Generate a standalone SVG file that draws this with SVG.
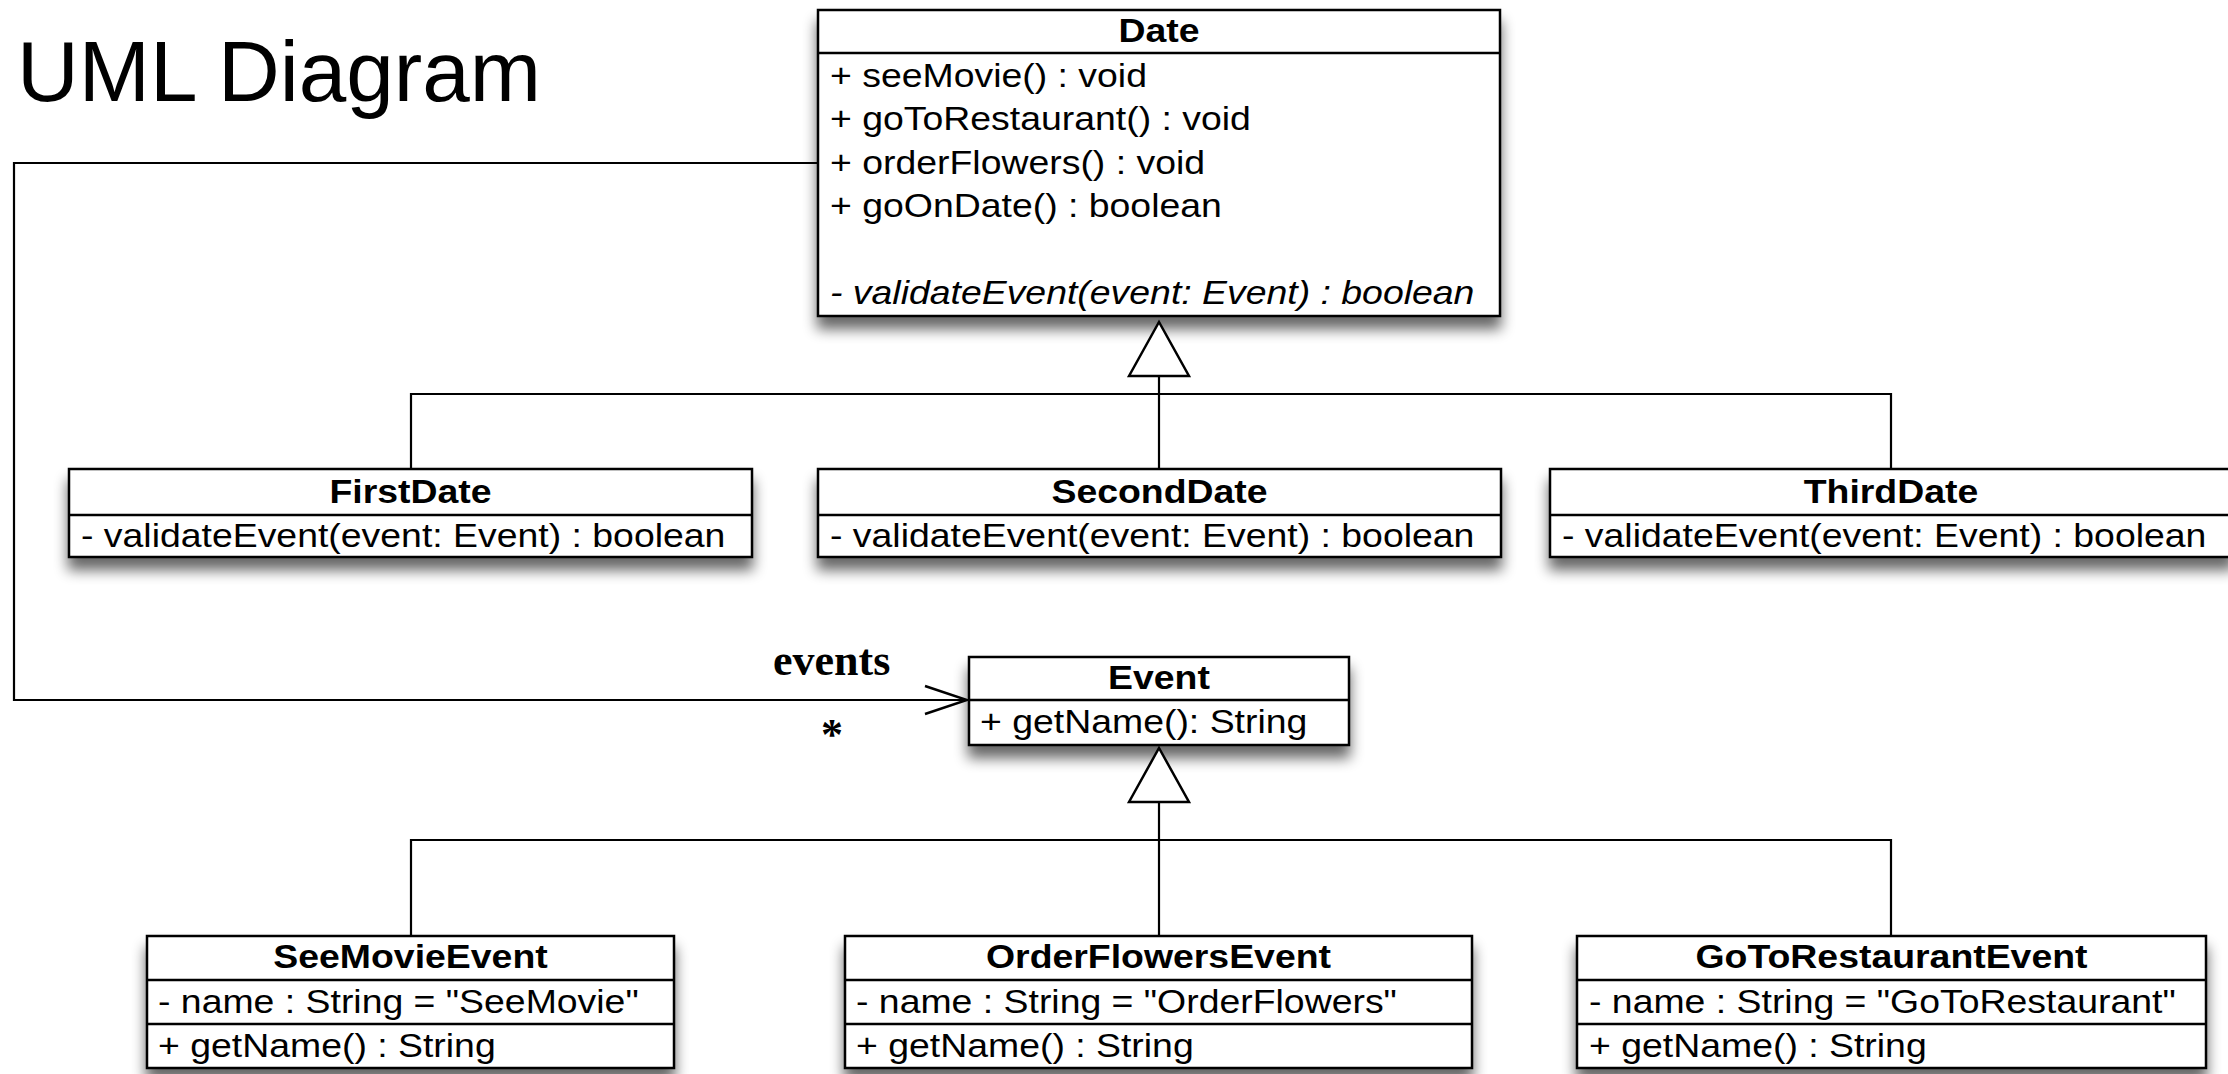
<svg xmlns="http://www.w3.org/2000/svg" width="2228" height="1074" viewBox="0 0 2228 1074">
<style>
.box{fill:#fff;stroke:#000;stroke-width:2.5}
.dv{stroke:#000;stroke-width:2.5}
.t{font-family:"Liberation Sans",Arial,Helvetica,sans-serif;font-size:34px;fill:#000}
.b{font-weight:bold;text-anchor:middle}
.i{font-style:italic}
.conn{fill:none;stroke:#000;stroke-width:2.2}
.lbl{font-family:"Liberation Serif","Times New Roman",serif;font-size:44px;font-weight:bold;fill:#000}
.title{font-family:"Liberation Sans",Arial,Helvetica,sans-serif;font-size:85px;fill:#000}
</style>
<defs>
<filter id="sh" x="-10%" y="-20%" width="120%" height="170%">
<feGaussianBlur in="SourceAlpha" stdDeviation="7"/>
<feOffset dx="0" dy="12" result="o"/>
<feComponentTransfer><feFuncA type="linear" slope="0.6"/></feComponentTransfer>
<feMerge><feMergeNode/><feMergeNode in="SourceGraphic"/></feMerge>
</filter>
<marker id="gen" markerUnits="userSpaceOnUse" viewBox="-3 -33 60 66" markerWidth="60" markerHeight="66" refX="54" refY="0" orient="auto">
<polygon points="0,-30 54,0 0,30" fill="#fff" stroke="#000" stroke-width="2.5"/>
</marker>
<marker id="open" markerUnits="userSpaceOnUse" viewBox="-3 -17 48 34" markerWidth="48" markerHeight="34" refX="42" refY="0" orient="auto">
<polyline points="0,-14 42,0 0,14" fill="none" stroke="#000" stroke-width="2.5"/>
</marker>
</defs>
<rect width="2228" height="1074" fill="#fff"/>
<text class="title" x="17" y="101" textLength="524" lengthAdjust="spacingAndGlyphs">UML Diagram</text>

<g id="Date">
<rect class="box" x="818" y="10" width="682" height="306" filter="url(#sh)"/>
<line class="dv" x1="818" y1="53" x2="1500" y2="53"/>
<text class="t b" transform="translate(1159,42) scale(1.1,1)">Date</text>
<text class="t" transform="translate(830,87) scale(1.1,1)">+ seeMovie() : void</text>
<text class="t" transform="translate(830,130) scale(1.1,1)">+ goToRestaurant() : void</text>
<text class="t" transform="translate(830,174) scale(1.1,1)">+ orderFlowers() : void</text>
<text class="t" transform="translate(830,217) scale(1.1,1)">+ goOnDate() : boolean</text>
<text class="t i" transform="translate(830,304) scale(1.1,1)">- validateEvent(event: Event) : boolean</text>
</g>

<g id="FirstDate">
<rect class="box" x="69" y="469" width="683" height="88" filter="url(#sh)"/>
<line class="dv" x1="69" y1="515" x2="752" y2="515"/>
<text class="t b" transform="translate(410.5,503) scale(1.1,1)">FirstDate</text>
<text class="t" transform="translate(81,547) scale(1.1,1)">- validateEvent(event: Event) : boolean</text>
</g>

<g id="SecondDate">
<rect class="box" x="818" y="469" width="683" height="88" filter="url(#sh)"/>
<line class="dv" x1="818" y1="515" x2="1501" y2="515"/>
<text class="t b" transform="translate(1159.5,503) scale(1.1,1)">SecondDate</text>
<text class="t" transform="translate(830,547) scale(1.1,1)">- validateEvent(event: Event) : boolean</text>
</g>

<g id="ThirdDate">
<rect class="box" x="1550" y="469" width="683" height="88" filter="url(#sh)"/>
<line class="dv" x1="1550" y1="515" x2="2233" y2="515"/>
<text class="t b" transform="translate(1891,503) scale(1.1,1)">ThirdDate</text>
<text class="t" transform="translate(1562,547) scale(1.1,1)">- validateEvent(event: Event) : boolean</text>
</g>

<g id="Event">
<rect class="box" x="969" y="657" width="380" height="88" filter="url(#sh)"/>
<line class="dv" x1="969" y1="700" x2="1349" y2="700"/>
<text class="t b" transform="translate(1159,689) scale(1.1,1)">Event</text>
<text class="t" transform="translate(980,733) scale(1.1,1)">+ getName(): String</text>
</g>

<g id="SeeMovieEvent">
<rect class="box" x="147" y="936" width="527" height="132" filter="url(#sh)"/>
<line class="dv" x1="147" y1="980" x2="674" y2="980"/>
<line class="dv" x1="147" y1="1024" x2="674" y2="1024"/>
<text class="t b" transform="translate(410.5,968) scale(1.1,1)">SeeMovieEvent</text>
<text class="t" transform="translate(158,1013) scale(1.1,1)">- name : String = "SeeMovie"</text>
<text class="t" transform="translate(158,1057) scale(1.1,1)">+ getName() : String</text>
</g>

<g id="OrderFlowersEvent">
<rect class="box" x="845" y="936" width="627" height="132" filter="url(#sh)"/>
<line class="dv" x1="845" y1="980" x2="1472" y2="980"/>
<line class="dv" x1="845" y1="1024" x2="1472" y2="1024"/>
<text class="t b" transform="translate(1158.5,968) scale(1.1,1)">OrderFlowersEvent</text>
<text class="t" transform="translate(856,1013) scale(1.1,1)">- name : String = "OrderFlowers"</text>
<text class="t" transform="translate(856,1057) scale(1.1,1)">+ getName() : String</text>
</g>

<g id="GoToRestaurantEvent">
<rect class="box" x="1577" y="936" width="629" height="132" filter="url(#sh)"/>
<line class="dv" x1="1577" y1="980" x2="2206" y2="980"/>
<line class="dv" x1="1577" y1="1024" x2="2206" y2="1024"/>
<text class="t b" transform="translate(1891.5,968) scale(1.1,1)">GoToRestaurantEvent</text>
<text class="t" transform="translate(1589,1013) scale(1.1,1)">- name : String = "GoToRestaurant"</text>
<text class="t" transform="translate(1589,1057) scale(1.1,1)">+ getName() : String</text>
</g>

<g id="connectors">
<path class="conn" d="M411,469 V394 H1891 V469"/>
<path class="conn" d="M1159,469 V322" marker-end="url(#gen)"/>
<path class="conn" d="M411,936 V840 H1891 V936"/>
<path class="conn" d="M1159,936 V748" marker-end="url(#gen)"/>
<path class="conn" d="M818,163 H14 V700 H967" marker-end="url(#open)"/>
<text class="lbl" x="773" y="675">events</text>
<text class="lbl" x="832" y="749" text-anchor="middle">*</text>
</g>
</svg>
